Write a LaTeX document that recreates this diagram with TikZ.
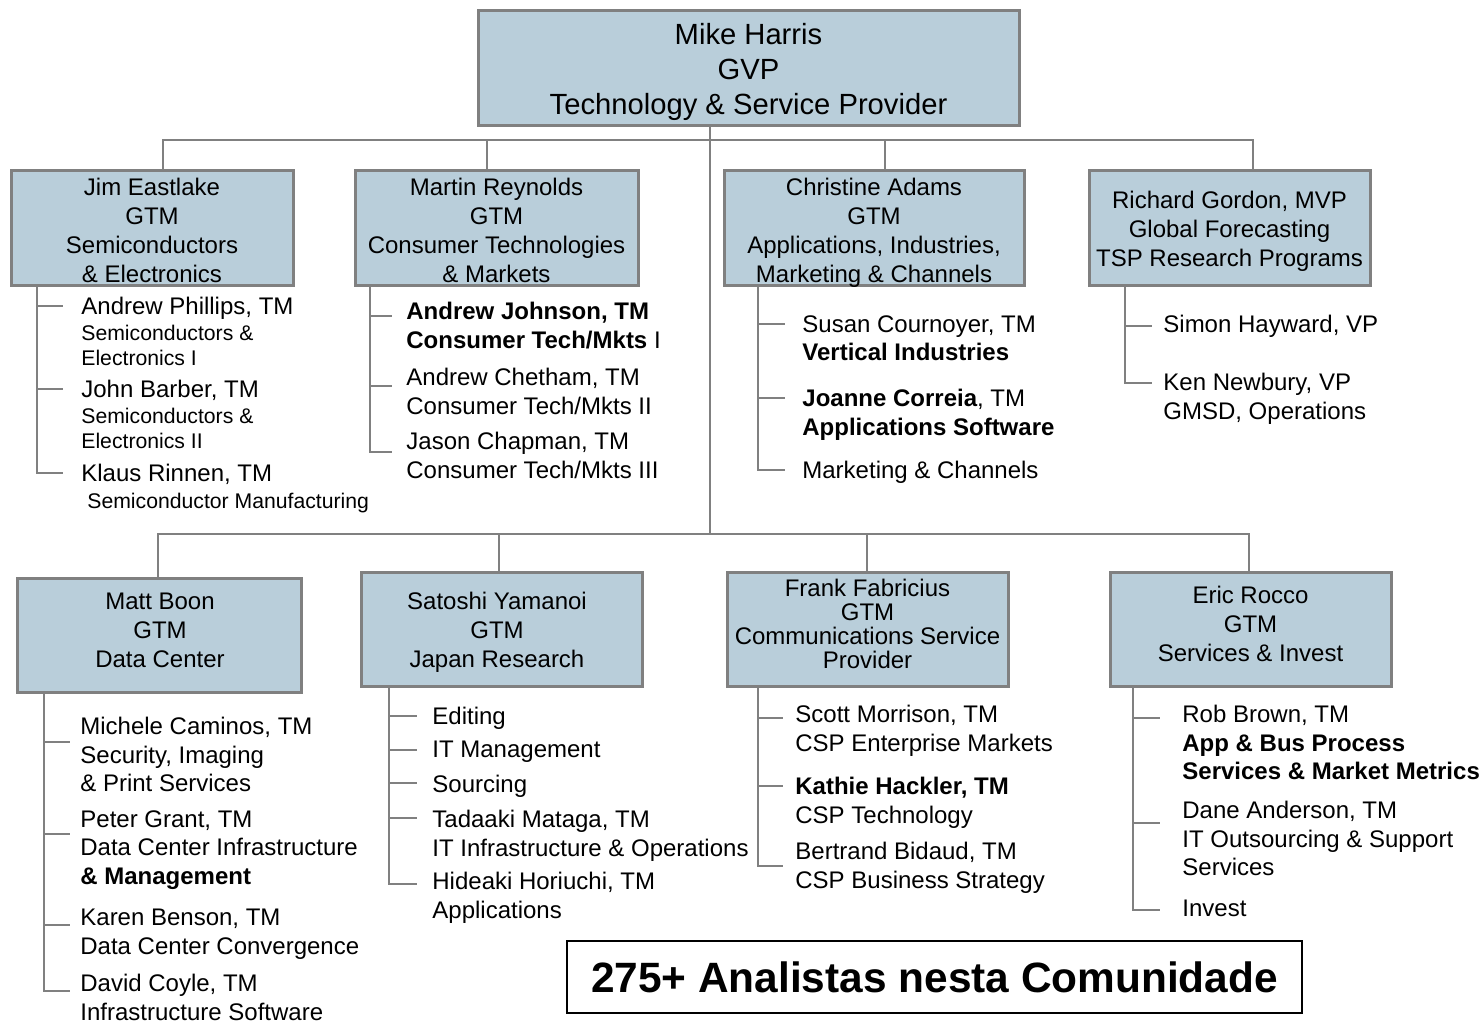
\documentclass[tikz,border=0pt]{standalone}
\usepackage{fontspec}
\setmainfont{Liberation Sans}
\usepackage{tikz}
\usepackage{xcolor}
\definecolor{orgfill}{RGB}{185, 206, 218}
\definecolor{orgline}{RGB}{128, 128, 128}
\newcommand{\smalltxt}{\fontsize{10.6}{13}\selectfont}
\tikzset{
    unitbox/.style={rectangle, draw=orgline, fill=orgfill, line width=1.5pt, inner sep=0pt, minimum height=57.5pt},
    boxtext/.style={inner sep=0pt, align=center, font=\fontsize{12}{14.5}\selectfont},
    headtext/.style={boxtext, font=\fontsize{14.6}{17.5}\selectfont},
    member/.style={anchor=north west, inner sep=0pt, align=left, font=\fontsize{12}{14.25}\selectfont},
    link/.style={draw=orgline, line width=1pt},
    countbox/.style={rectangle, draw=black, line width=1pt, inner sep=0pt, minimum width=367.5pt, minimum height=36pt, font=\fontsize{21.2}{25}\selectfont\bfseries}
}

\begin{document}
\begin{tikzpicture}[x=0.5pt, y=-0.5pt]
    \useasboundingbox (0,0) rectangle (1481,1023);

    % Head
    \node[unitbox, minimum width=270.5pt] (top) at (748.5, 67.5) {};
    \node[headtext] (toptext) at (748.5, 71.5) {Mike Harris\\GVP\\Technology \& Service Provider};

    % First row
    \node[unitbox, minimum width=141pt] (jim) at (152, 227.5) {};
    \node[boxtext] (jimtext) at (152, 230.5) {Jim Eastlake\\GTM\\Semiconductors\\\& Electronics};
    \node[unitbox, minimum width=141.5pt] (martin) at (496.5, 227.5) {};
    \node[boxtext] (martintext) at (496.5, 230.5) {Martin Reynolds\\GTM\\Consumer Technologies\\\& Markets};
    \node[unitbox, minimum width=150pt] (christine) at (874, 227.5) {};
    \node[boxtext] (christinetext) at (874, 232.5) {Christine Adams\\GTM\\Applications, Industries,\\Marketing \& Channels};
    \node[unitbox, minimum width=140.5pt] (richard) at (1229.5, 227.5) {};
    \node[boxtext] (richardtext) at (1229.5, 231.5) {Richard Gordon, MVP\\Global Forecasting\\TSP Research Programs};

    % Second row
    \node[unitbox, minimum width=142pt, minimum height=57pt] (matt) at (159, 635) {};
    \node[boxtext] (matttext) at (160, 630) {Matt Boon\\GTM\\Data Center};
    \node[unitbox, minimum width=140.5pt, minimum height=57pt] (satoshi) at (501.5, 629) {};
    \node[boxtext] (satoshitext) at (497, 632) {Satoshi Yamanoi\\GTM\\Japan Research};
    \node[unitbox, minimum width=140.5pt, minimum height=57pt] (frank) at (867.5, 629) {};
    \node[boxtext, font=\fontsize{12}{12}\selectfont] (franktext) at (867.5, 624) {Frank Fabricius\\GTM\\Communications Service\\Provider};
    \node[unitbox, minimum width=140.5pt, minimum height=57pt] (eric) at (1250.5, 629) {};
    \node[boxtext] (erictext) at (1250.5, 624) {Eric Rocco\\GTM\\Services \& Invest};

    % Bus lines
    \coordinate (hub1) at (710, 140);
    \coordinate (hub2) at (710, 534);
    \draw[link] (top.south -| hub1) -- (hub2);
    \draw[link] (jim.north) ++(11,0) |- (hub1);
    \draw[link] (martin.north) ++(-9.5,0) |- (hub1);
    \draw[link] (christine.north) ++(11,0) |- (hub1);
    \draw[link] (richard.north) ++(23.5,0) |- (hub1);
    \draw[link] (matt.north) ++(-1,0) |- (hub2);
    \draw[link] (satoshi.north) ++(-2.5,0) |- (hub2);
    \draw[link] (frank.north) ++(-0.5,0) |- (hub2);
    \draw[link] (eric.north) ++(-1.5,0) |- (hub2);

    % Jim's team
    \node[member] (phillips) at (81, 297) {Andrew Phillips, TM\\[-1.5pt]\smalltxt Semiconductors \&\\[-1.5pt]\smalltxt Electronics I};
    \node[member] (barber) at (81, 380) {John Barber, TM\\[-1.5pt]\smalltxt Semiconductors \&\\[-1.5pt]\smalltxt Electronics II};
    \node[member] (rinnen) at (81, 464) {Klaus Rinnen, TM\\[-0.75pt]\hspace{3pt}\smalltxt Semiconductor Manufacturing};
    \coordinate (jimv) at (37, 0);
    \coordinate (jimt1) at (63, 306);
    \coordinate (jimt2) at (63, 389);
    \coordinate (jimt3) at (63, 473);
    \draw[link] (jim.south -| jimv) |- (jimt3) (jimv |- jimt1) -- (jimt1) (jimv |- jimt2) -- (jimt2);

    % Martin's team
    \node[member] (johnson) at (406, 302) {\textbf{Andrew Johnson, TM}\\\textbf{Consumer Tech/Mkts} I};
    \node[member] (chetham) at (406, 368) {Andrew Chetham, TM\\Consumer Tech/Mkts II};
    \node[member] (chapman) at (406, 432) {Jason Chapman, TM\\Consumer Tech/Mkts III};
    \coordinate (martinv) at (370, 0);
    \coordinate (martint1) at (392, 316);
    \coordinate (martint2) at (392, 386);
    \coordinate (martint3) at (392, 452);
    \draw[link] (martin.south -| martinv) |- (martint3) (martinv |- martint1) -- (martint1) (martinv |- martint2) -- (martint2);

    % Christine's team
    \node[member] (cournoyer) at (802, 315) {Susan Cournoyer, TM\\\textbf{Vertical Industries}};
    \node[member] (correia) at (802, 389) {\textbf{Joanne Correia}, TM\\\textbf{Applications Software}};
    \node[member] (channels) at (802, 461) {Marketing \& Channels};
    \coordinate (christinev) at (758, 0);
    \coordinate (christinet1) at (785, 324);
    \coordinate (christinet2) at (785, 398);
    \coordinate (christinet3) at (785, 470);
    \draw[link] (christine.south -| christinev) |- (christinet3) (christinev |- christinet1) -- (christinet1) (christinev |- christinet2) -- (christinet2);

    % Richard's team
    \node[member] (hayward) at (1163, 315) {Simon Hayward, VP};
    \node[member] (newbury) at (1163, 373) {Ken Newbury, VP\\GMSD, Operations};
    \coordinate (richardv) at (1125, 0);
    \coordinate (richardt1) at (1152, 326);
    \coordinate (richardt2) at (1152, 383);
    \draw[link] (richard.south -| richardv) |- (richardt2) (richardv |- richardt1) -- (richardt1);

    % Matt's team
    \node[member] (caminos) at (80, 717) {Michele Caminos, TM\\Security, Imaging\\\& Print Services};
    \node[member] (grant) at (80, 810) {Peter Grant, TM\\Data Center Infrastructure\\\textbf{\& Management}};
    \node[member] (benson) at (80, 909) {Karen Benson, TM\\Data Center Convergence};
    \node[member] (coyle) at (80, 974) {David Coyle, TM\\Infrastructure Software};
    \coordinate (mattv) at (44, 0);
    \coordinate (mattt1) at (70, 742);
    \coordinate (mattt2) at (70, 834);
    \coordinate (mattt3) at (70, 925);
    \coordinate (mattt4) at (70, 991);
    \draw[link] (matt.south -| mattv) |- (mattt4) (mattv |- mattt1) -- (mattt1) (mattv |- mattt2) -- (mattt2) (mattv |- mattt3) -- (mattt3);

    % Satoshi's team
    \node[member] (editing) at (432, 707) {Editing};
    \node[member] (itmgmt) at (432, 741) {IT Management};
    \node[member] (sourcing) at (432, 775) {Sourcing};
    \node[member] (mataga) at (432, 810) {Tadaaki Mataga, TM\\IT Infrastructure \& Operations};
    \node[member] (horiuchi) at (432, 872) {Hideaki Horiuchi, TM\\Applications};
    \coordinate (satoshiv) at (389, 0);
    \coordinate (satoshit1) at (417, 716);
    \coordinate (satoshit2) at (417, 750);
    \coordinate (satoshit3) at (417, 783);
    \coordinate (satoshit4) at (417, 818);
    \coordinate (satoshit5) at (417, 884);
    \draw[link] (satoshi.south -| satoshiv) |- (satoshit5) (satoshiv |- satoshit1) -- (satoshit1) (satoshiv |- satoshit2) -- (satoshit2) (satoshiv |- satoshit3) -- (satoshit3) (satoshiv |- satoshit4) -- (satoshit4);

    % Frank's team
    \node[member] (morrison) at (795, 705) {Scott Morrison, TM\\CSP Enterprise Markets};
    \node[member] (hackler) at (795, 777) {\textbf{Kathie Hackler, TM}\\CSP Technology};
    \node[member] (bidaud) at (795, 842) {Bertrand Bidaud, TM\\CSP Business Strategy};
    \coordinate (frankv) at (758, 0);
    \coordinate (frankt1) at (783, 718);
    \coordinate (frankt2) at (783, 786);
    \coordinate (frankt3) at (783, 866);
    \draw[link] (frank.south -| frankv) |- (frankt3) (frankv |- frankt1) -- (frankt1) (frankv |- frankt2) -- (frankt2);

    % Eric's team
    \node[member] (brown) at (1182, 705) {Rob Brown, TM\\\textbf{App \& Bus Process}\\\textbf{Services \& Market Metrics}};
    \node[member] (anderson) at (1182, 801) {Dane Anderson, TM\\IT Outsourcing \& Support\\Services};
    \node[member] (invest) at (1182, 900) {Invest};
    \coordinate (ericv) at (1133, 0);
    \coordinate (erict1) at (1160, 718);
    \coordinate (erict2) at (1160, 823);
    \coordinate (erict3) at (1160, 910);
    \draw[link] (eric.south -| ericv) |- (erict3) (ericv |- erict1) -- (erict1) (ericv |- erict2) -- (erict2);

    % Count
    \node[countbox] (count) at (934.5, 977) {275+ Analistas nesta Comunidade};
\end{tikzpicture}
\end{document}
